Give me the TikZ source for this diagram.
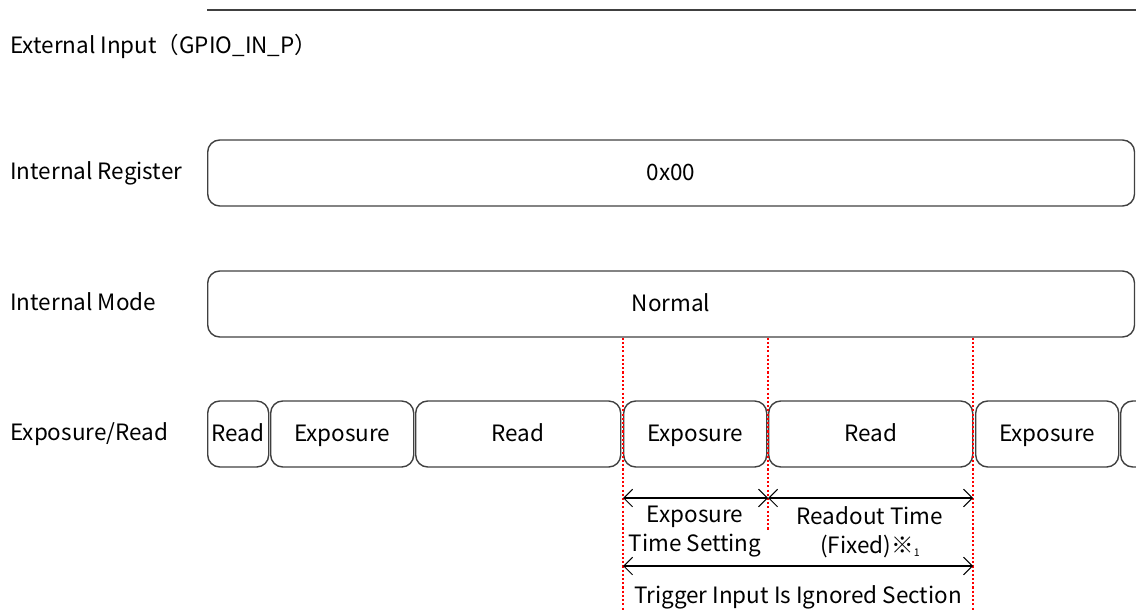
\documentclass[tikz,border=0pt]{standalone}
\usepackage{fontspec}
\setmainfont{Noto Sans CJK JP}
\usetikzlibrary{arrows.meta}
\tikzset{
  seg/.style={draw=black!75, line width=0.8pt, rounded corners=0.24cm,
    minimum height=1.32cm, inner sep=0pt, anchor=west, text height=0.95em, text depth=0.1em},
  lbl/.style={anchor=west, inner sep=0pt, text height=0.8em, text depth=0.1em},
  guide/.style={red, dash pattern=on 1.2pt off 1.2pt, line width=1pt},
  span/.style={{Straight Barb[length=5pt,width=10pt]}-{Straight Barb[length=5pt,width=10pt]},
    line width=0.6pt}
}
\begin{document}
\begin{tikzpicture}[x=0.02cm, y=-0.02cm, font=\fontsize{12.8}{16.5}\selectfont]
  \clip (0,0) rectangle (1136,615);
  % Labels
  \draw[line width=0.8pt, black!75] (207,10) -- (1136,10);
  \node[lbl] (ext) at (10,47) {External Input（GPIO\_IN\_P）};
  \node[lbl] (regl) at (10,173) {Internal Register};
  \node[lbl] (model) at (10,304) {Internal Mode};
  \node[lbl] (expl) at (10,434) {Exposure/Read};
  % Boxes
  \node[seg, minimum width=18.54cm] (reg) at (207,173) {0x00};
  \node[seg, minimum width=18.54cm] (mode) at (207,304) {Normal};
  \foreach \a/\b/\t/\n in {207/268/Read/s1, 270/413/Exposure/s2, 415/620/Read/s3,
      623/766/Exposure/s4, 768/972/Read/s5, 975/1118/Exposure/s6, 1120/1180//s7}
    \node[seg, minimum width={(\b-\a)*0.02cm}] (\n) at (\a,434) {\t};
  % Guides
  \coordinate (bot) at (0,610);
  \coordinate (mid) at (0,530);
  \coordinate (g3) at (973,0);
  \draw[guide] (s4.west |- mode.south) -- (s4.west |- bot);
  \draw[guide] (s5.west |- mode.south) -- (s5.west |- mid);
  \draw[guide] (g3 |- mode.south) -- (g3 |- bot);
  % Spans
  \coordinate (a1) at (0,498);
  \coordinate (a2) at (0,566);
  \draw[span] (s4.west |- a1) -- (s5.west |- a1);
  \draw[span] (s5.west |- a1) -- (g3 |- a1);
  \draw[span] (s4.west |- a2) -- (g3 |- a2);
  \node[align=center] (ets) at (695,532) {Exposure\\Time Setting};
  \node[align=center] (rot) at (870,532) {Readout Time\\(Fixed)※\raisebox{-0.3ex}{\fontsize{6}{6}\selectfont 1}};
  \node (tri) at (798,597) {Trigger Input Is Ignored Section};
\end{tikzpicture}
\end{document}
